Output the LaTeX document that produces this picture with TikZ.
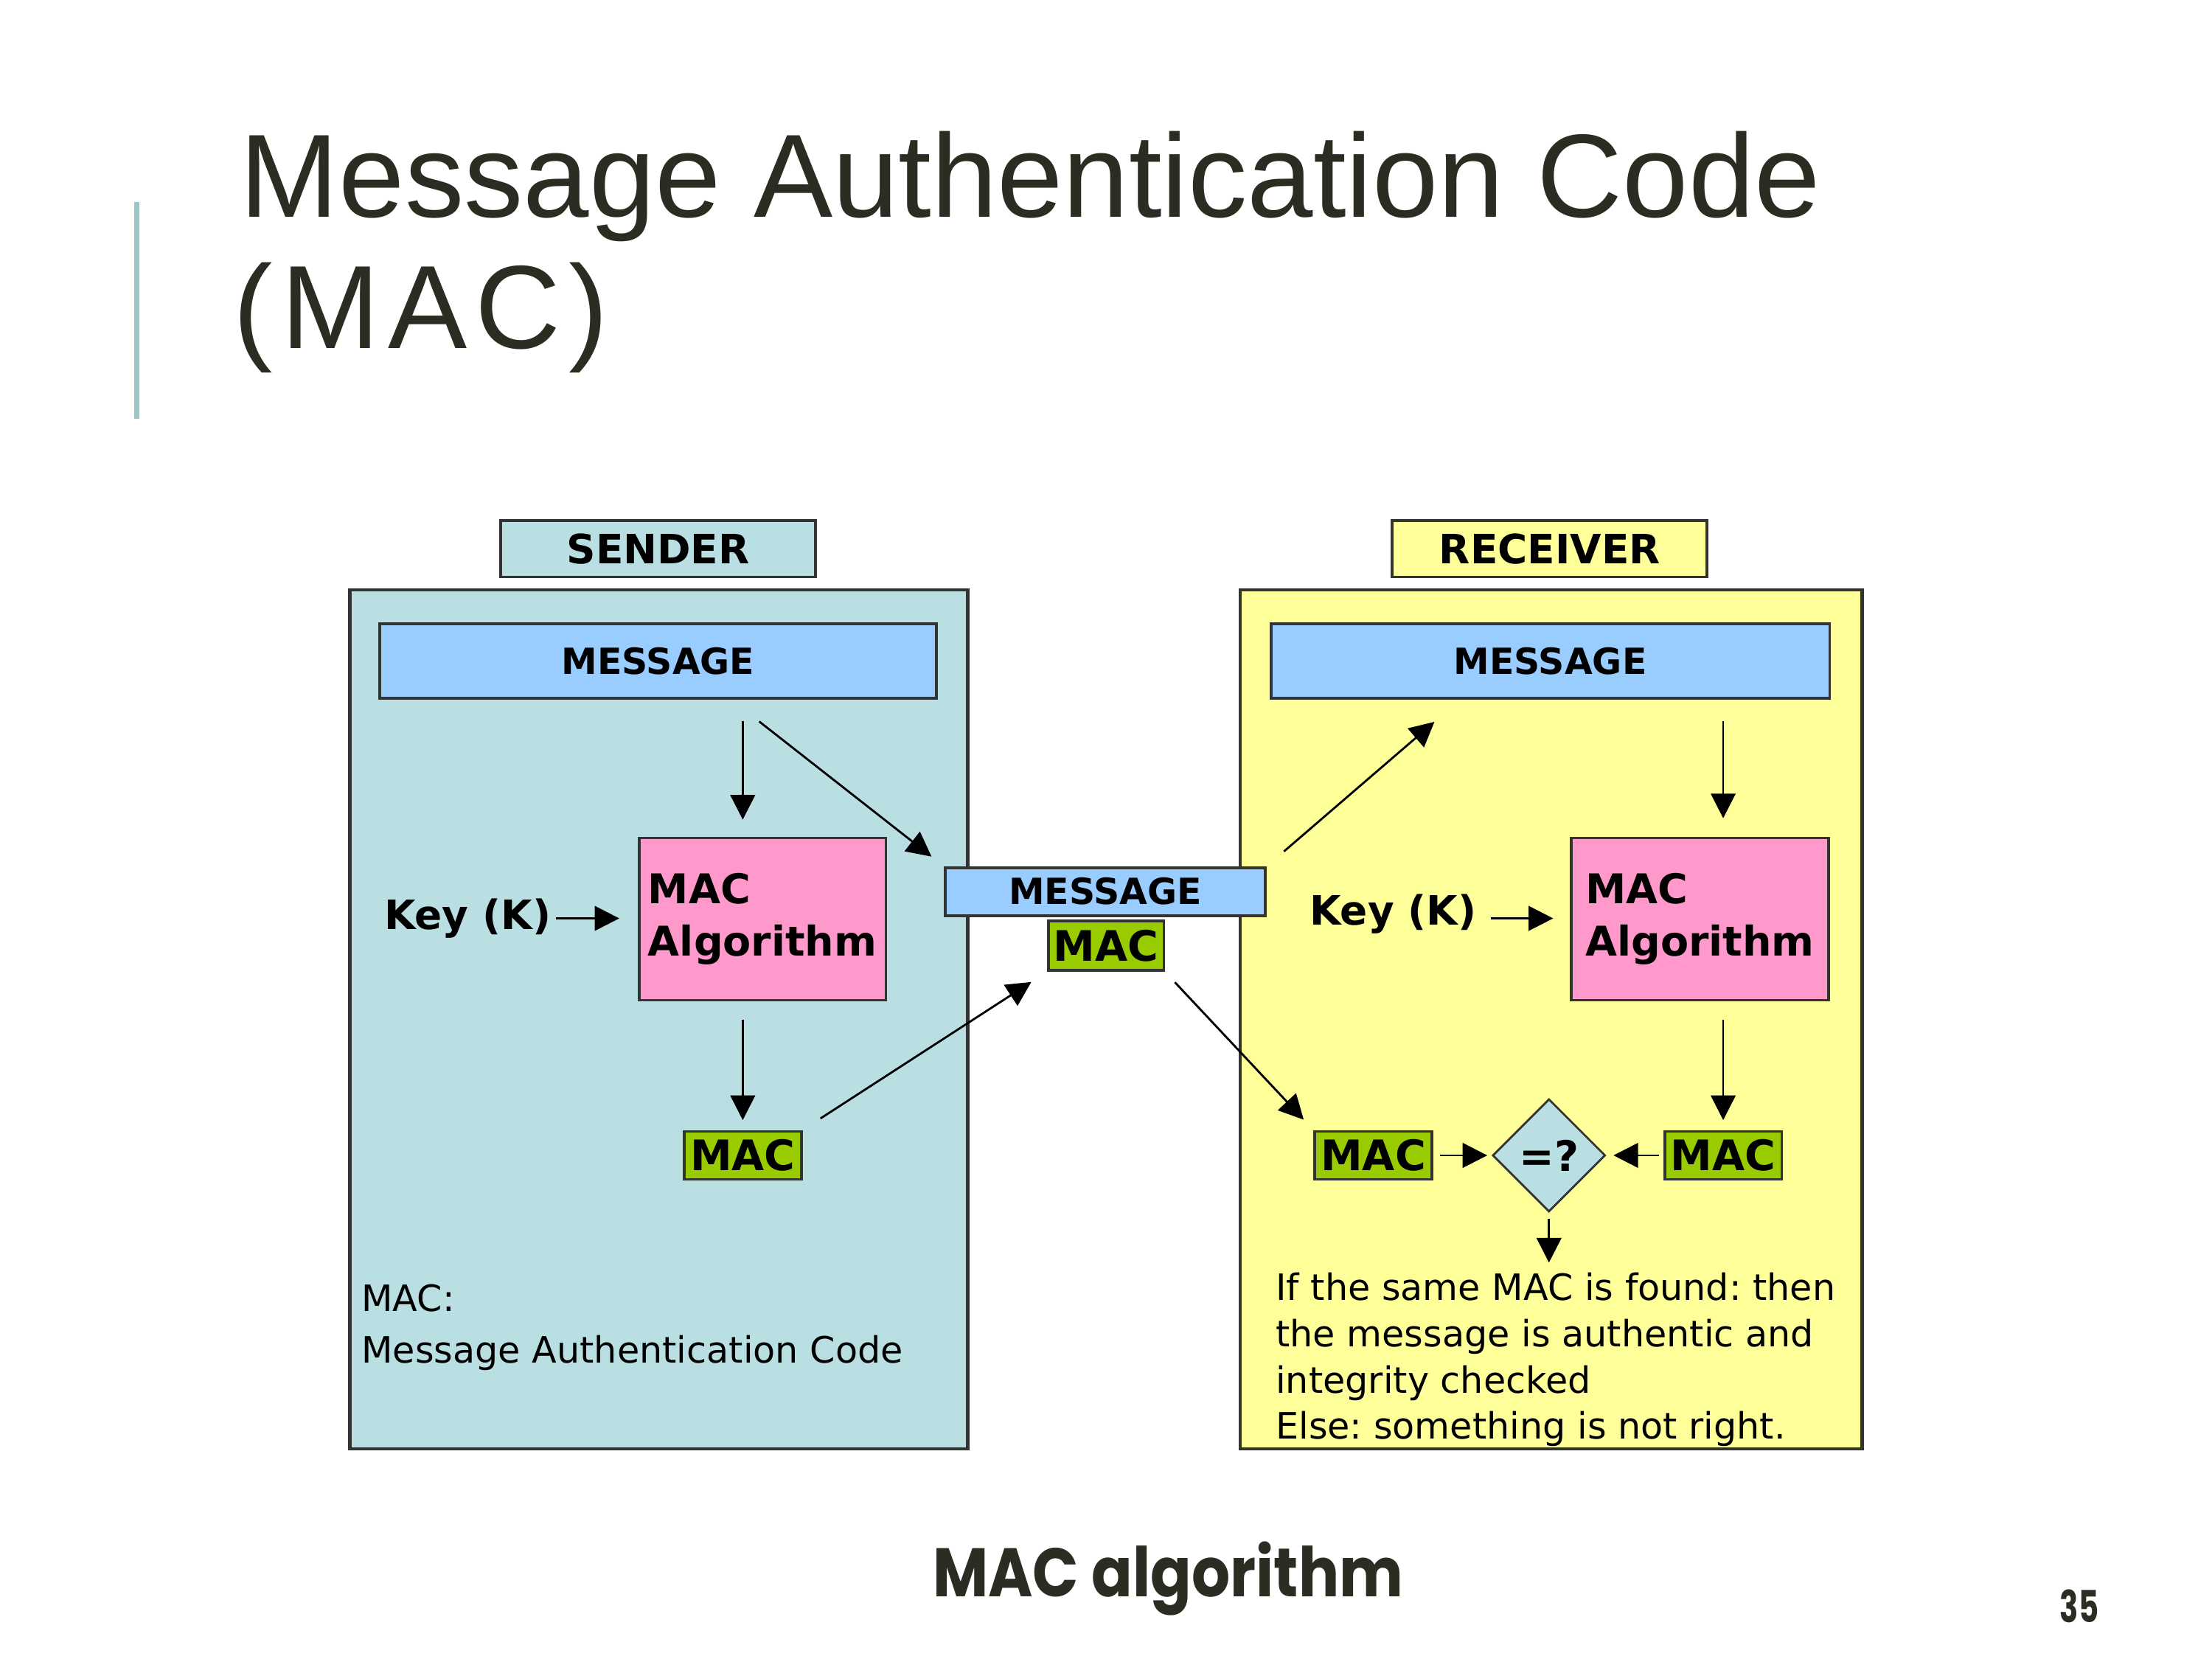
\documentclass[tikz,border=0pt]{standalone}
\usepackage{fontspec}
\setmainfont{DejaVu Sans}
\newfontfamily\titlefont{Liberation Sans}
\newfontfamily\captionfont{Poppins}
\usetikzlibrary{positioning, arrows.meta, shapes.geometric, calc}
\definecolor{SlideInk}{HTML}{2D2C22}
\definecolor{SlideBar}{HTML}{A3C4C4}
\definecolor{SendTeal}{HTML}{BADFE3}
\definecolor{RecvYellow}{HTML}{FFFF99}
\definecolor{MsgBlue}{HTML}{99CCFF}
\definecolor{AlgPink}{HTML}{FF99CC}
\definecolor{MacGreen}{HTML}{99CC00}
\definecolor{EdgeGrey}{HTML}{333333}
\newlength{\pxu}
\setlength{\pxu}{0.5443pt}
\frenchspacing

\begin{document}
\begin{tikzpicture}[x=0.5443pt, y=-0.5443pt,
    heading/.style={inner sep=0pt, text=SlideInk, font=\titlefont\fontsize{45.7}{50}\selectfont},
    box/.style={draw=EdgeGrey, line width=1.1pt, inner sep=0pt},
    panel/.style={box, line width=1.2pt},
    lblbox/.style={box, minimum width=223\pxu, minimum height=40\pxu, font=\bfseries\fontsize{15.6}{19}\selectfont},
    msgbox/.style={box, fill=MsgBlue, font=\bfseries\fontsize{13.9}{17}\selectfont},
    algbox/.style={box, fill=AlgPink, minimum height=115\pxu, align=left, font=\bfseries\fontsize{15.8}{20}\selectfont},
    macbox/.style={box, fill=MacGreen, minimum width=83\pxu, minimum height=34\pxu, font=\bfseries\fontsize{16.2}{19}\selectfont},
    keytext/.style={inner sep=0pt, font=\bfseries\fontsize{15.6}{19}\selectfont},
    note/.style={inner sep=0pt, align=left, anchor=north west},
    arr/.style={-{Triangle[length=9.5pt, width=9.5pt]}, line width=0.8pt},
    gaps/.style 2 args={shorten <=#1\pxu, shorten >=#2\pxu}]

    % --- Page ---
    \path[use as bounding box, fill=white] (0,0) rectangle (1568,1176);

    % --- Slide heading ---
    \draw[SlideBar, line width=4\pxu] (97,143) -- (97,297);
    \node[heading, anchor=base west] (title) at (170,154) {Message Authentication Code};
    \node[heading, anchor=base west] (titlemac) at (165,247) {\addfontfeature{LetterSpace=7}(MAC)};

    % --- Panels ---
    \node[panel, fill=SendTeal, minimum width=438\pxu, minimum height=609\pxu] (sender) at (467,722.5) {};
    \node[panel, fill=RecvYellow, minimum width=441\pxu, minimum height=609\pxu] (receiver) at (1099.5,722.5) {};
    \node[lblbox, fill=SendTeal] (sendlabel) at (466.5,389) {SENDER};
    \node[lblbox, fill=RecvYellow] (recvlabel) at (1098.5,389) {RECEIVER};

    % --- Sender side ---
    \node[msgbox, minimum width=395\pxu, minimum height=53\pxu] (smsg) at (466.5,468.5) {MESSAGE};
    \node[algbox, minimum width=175\pxu] (salg) at (540.5,651.5) {MAC\\Algorithm};
    \node[keytext, anchor=east] (skey) at (391,651) {Key (K)};
    \node[macbox] (smac) at (526.5,819) {MAC};
    \node[note, font=\fontsize{14}{20.1}\selectfont] (snote) at (256,910) {MAC:\\Message Authentication Code};

    % --- In transit ---
    \node[msgbox, minimum width=227\pxu, minimum height=34\pxu] (mmsg) at (783.5,632) {MESSAGE};
    \node[macbox, minimum width=82\pxu, minimum height=35\pxu] (mmac) at (784,670.5) {MAC};

    % --- Receiver side ---
    \node[msgbox, minimum width=396\pxu, minimum height=53\pxu] (rmsg) at (1099,468.5) {MESSAGE};
    \node[algbox, minimum width=182\pxu] (ralg) at (1205,651.5) {MAC\\Algorithm};
    \node[keytext, anchor=east] (rkey) at (1047,648) {Key (K)};
    \node[macbox] (rmac) at (973.5,819) {MAC};
    \node[macbox] (rmacb) at (1221.5,819) {MAC};
    \node[diamond, aspect=1, draw=EdgeGrey, line width=0.8pt, fill=SendTeal, inner sep=0pt,
          minimum size=80\pxu, font=\bfseries\fontsize{16.2}{19}\selectfont] (cmp) at (1098,819) {=?};
    \node[note, font=\fontsize{14}{17.8}\selectfont] (rnote) at (904,902)
        {If the same MAC is found: then\\the message is authentic and\\integrity checked\\Else: something is not right.};

    % --- Connectors ---
    \draw[arr, gaps={15}{12}] (smsg.south -| smac) -- (salg.north -| smac);
    \draw[arr, gaps={13}{7}] (salg.south -| smac) -- (smac.north);
    \draw[arr, gaps={3}{13}] (skey.east) -- (skey.east -| salg.west);
    \draw[arr, gaps={25}{11}] ($(smsg.south)+(52,0)$) -- (mmsg.north west);
    \draw[arr, gaps={15}{13}] (smac.north east) -- (mmac.south west);
    \draw[arr, gaps={10}{10}] (mmac.south east) -- (rmac.north west);
    \draw[arr, gaps={16}{24}] (mmsg.north east) -- ($(rmsg.south)+(-64,0)$);
    \draw[arr, gaps={15}{13}] (rmsg.south -| rmacb) -- (ralg.north -| rmacb);
    \draw[arr, gaps={13}{7}] (ralg.south -| rmacb) -- (rmacb.north);
    \draw[arr, gaps={10}{12}] ([yshift=-3\pxu]rkey.east) -- ([yshift=-3\pxu]rkey.east -| ralg.west);
    \draw[arr, gaps={5}{3}] (rmac.east) -- (cmp.west);
    \draw[arr, gaps={3}{5}] (rmacb.west) -- (cmp.east);
    \draw[arr, gaps={4}{7}] (cmp.south) -- (cmp.south |- rnote.north);

    % --- Caption ---
    \node[anchor=base, text=SlideInk, font=\captionfont\bfseries\fontsize{26.5}{30}\selectfont] (caption) at (828,1132) {\scalebox{0.88}[1]{MAC algorithm}};
    \node[anchor=base, text=SlideInk, font=\captionfont\bfseries\fontsize{17}{20}\selectfont] (pagenum) at (1474,1150) {\scalebox{0.7}[1]{35}};
\end{tikzpicture}
\end{document}
